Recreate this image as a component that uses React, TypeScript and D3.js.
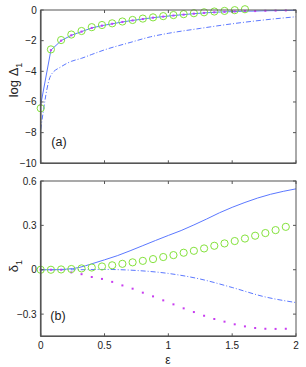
import React from 'react';
import * as d3 from 'd3';

const W = 306;
const H = 367;

// grid of the markers (circles and dots)
const epsMarks = [0, 0.08, 0.16, 0.24, 0.32, 0.4, 0.48, 0.56, 0.64, 0.72, 0.8, 0.88, 0.96,
  1.04, 1.12, 1.2, 1.28, 1.36, 1.44, 1.52, 1.6, 1.68, 1.76, 1.84, 1.92];

// panel (a): log Delta_1
const topCircles = [-6.41, -2.57, -1.96, -1.6, -1.37, -1.12, -0.98, -0.87, -0.75, -0.65, -0.56,
  -0.48, -0.4, -0.33, -0.27, -0.21, -0.15, -0.1, -0.06, -0.01, 0.05];
const topDots = [-6.2, -2.62, -2.0, -1.65, -1.41, -1.17, -1.02, -0.9, -0.78, -0.68, -0.59,
  -0.5, -0.43, -0.36, -0.3, -0.24, -0.19, -0.15, -0.12, -0.1, -0.08, -0.07, -0.05, -0.04, -0.03];
const topSolidEps = [...epsMarks, 2];
const topSolid = [...topDots, -0.02];
const topDashEps = [0, 0.08, 0.16, 0.24, 0.32, 0.4, 0.5, 0.7, 0.86, 1, 1.25, 1.5, 1.75, 2];
const topDash = [-7.8, -4.25, -3.7, -3.35, -3.15, -2.9, -2.6, -2.12, -1.75, -1.52, -1.2, -0.9, -0.65, -0.44];

// panel (b): delta_1
const botCircles = [0, 0, 0.002, 0.005, 0.009, 0.015, 0.022, 0.03, 0.04, 0.05, 0.06, 0.072, 0.086,
  0.099, 0.115, 0.128, 0.144, 0.162, 0.178, 0.194, 0.211, 0.23, 0.248, 0.268, 0.29];
const botDots = [0, 0, 0, -0.018, -0.03, -0.049, -0.062, -0.082, -0.106, -0.128, -0.155, -0.18,
  -0.207, -0.234, -0.261, -0.286, -0.311, -0.333, -0.351, -0.369, -0.383, -0.394, -0.399, -0.4, -0.399];
const botSolidEps = [0, 0.1, 0.2, 0.3, 0.4, 0.5, 0.6, 0.7, 0.8, 0.9, 1, 1.1, 1.2, 1.3, 1.4, 1.5, 1.6, 1.7, 1.8, 1.9, 2];
const botSolid = [0, 0, 0.004, 0.015, 0.04, 0.067, 0.095, 0.128, 0.163, 0.198, 0.232, 0.265, 0.303,
  0.343, 0.385, 0.422, 0.455, 0.485, 0.51, 0.53, 0.547];
const botDashEps = [0, 0.25, 0.5, 0.75, 1, 1.25, 1.5, 1.75, 2];
const botDash = [0, 0, 0.002, -0.005, -0.025, -0.063, -0.12, -0.182, -0.222];

const xTicks = [0, 0.5, 1, 1.5, 2];
const topTicks = [0, -2, -4, -6, -8, -10];
const botTicks = [0.6, 0.3, 0, -0.3];

const blue = '#5b78ff';
const green = '#84e23c';
const magenta = '#c83cf0';
const axisCol = '#555';
const font = 'Liberation Sans, Arial, sans-serif';

const x = d3.scaleLinear().domain([0, 2]).range([40.7, 296]);
const yTop = d3.scaleLinear().domain([-10, 0]).range([163.3, 10]);
const yBot = d3.scaleLinear().domain([-0.45, 0.6]).range([336.3, 181]);

const fmt = (v: number) => (v < 0 ? '\u2212' + String(Math.abs(v)) : String(v));

type Scale = d3.ScaleLinear<number, number>;

const Panel = ({y, ticks, labels}: {y: Scale; ticks: number[]; labels: boolean}) => {
  const [x0, x1] = x.range();
  const [yb, yt] = y.range();
  const tl = 3;
  return (
    <g>
      <rect x={x0} y={yt} width={x1 - x0} height={yb - yt} fill="none" stroke={axisCol} strokeWidth={1} />
      <line x1={x0} x2={x0} y1={yt} y2={yb} stroke={axisCol} strokeWidth={1.6} />
      <line x1={x0} x2={x1} y1={yb} y2={yb} stroke={axisCol} strokeWidth={1.6} />
      {xTicks.map(t => (
        <g key={'x' + t}>
          <line x1={x(t)} x2={x(t)} y1={yb} y2={yb - tl} stroke={axisCol} />
          <line x1={x(t)} x2={x(t)} y1={yt} y2={yt + tl} stroke={axisCol} />
          {labels && (
            <text x={x(t)} y={yb + 13} textAnchor="middle" fontSize={10} fontFamily={font} fill="#222">
              {fmt(t)}
            </text>
          )}
        </g>
      ))}
      {ticks.map(t => (
        <g key={'y' + t}>
          <line x1={x0} x2={x0 + tl} y1={y(t)} y2={y(t)} stroke={axisCol} />
          <line x1={x1} x2={x1 - tl} y1={y(t)} y2={y(t)} stroke={axisCol} />
          <text x={x0 - 4} y={y(t)} dy="0.35em" textAnchor="end" fontSize={10} fontFamily={font} fill="#222">
            {fmt(t)}
          </text>
        </g>
      ))}
    </g>
  );
};

const linePath = (xs: number[], ys: number[], y: Scale, curve: d3.CurveFactory) =>
  d3.line<number>().x((_, i) => x(xs[i])).y(d => y(d)).curve(curve)(ys) || '';

export default function App() {
  const circlesTop = topCircles.map((v, i) => ({e: epsMarks[i], v}));
  const circlesBot = botCircles.map((v, i) => ({e: epsMarks[i], v}));
  return (
    <svg width={W} height={H} style={{position: 'absolute', left: 0, top: 0, background: '#fff'}}>
      {/* panel (a) */}
      <path d={linePath(topDashEps, topDash, yTop, d3.curveMonotoneX)} fill="none" stroke={blue}
        strokeWidth={1} strokeDasharray="5,2,1,2" />
      <path d={linePath(topSolidEps, topSolid, yTop, d3.curveLinear)} fill="none" stroke={blue} strokeWidth={1} />
      {topDots.map((v, i) => (
        <rect key={'td' + i} x={x(epsMarks[i]) - 1} y={yTop(v) - 1} width={2} height={2} fill={magenta} />
      ))}
      {circlesTop.map((d, i) => (
        <circle key={'tc' + i} cx={x(d.e)} cy={yTop(d.v)} r={3.6} fill="none" stroke={green} strokeWidth={1} />
      ))}
      <Panel y={yTop} ticks={topTicks} labels={false} />
      <text x={59} y={146} textAnchor="middle" fontSize={12.5} fontFamily={font} fill="#222">(a)</text>
      <text transform="translate(18,80) rotate(-90)" textAnchor="middle" fontSize={13} fontFamily={font} fill="#222">
        log Δ<tspan fontSize={9} dy={4}>1</tspan>
      </text>

      {/* panel (b) */}
      <path d={linePath(botDashEps, botDash, yBot, d3.curveMonotoneX)} fill="none" stroke={blue}
        strokeWidth={1} strokeDasharray="5,2,1,2" />
      <path d={linePath(botSolidEps, botSolid, yBot, d3.curveMonotoneX)} fill="none" stroke={blue} strokeWidth={1} />
      {botDots.map((v, i) => (
        <rect key={'bd' + i} x={x(epsMarks[i]) - 1} y={yBot(v) - 1} width={2} height={2} fill={magenta} />
      ))}
      {circlesBot.map((d, i) => (
        <circle key={'bc' + i} cx={x(d.e)} cy={yBot(d.v)} r={3.6} fill="none" stroke={green} strokeWidth={1} />
      ))}
      <Panel y={yBot} ticks={botTicks} labels={true} />
      <text x={58} y={320} textAnchor="middle" fontSize={12.5} fontFamily={font} fill="#222">(b)</text>
      <text transform="translate(18,266) rotate(-90)" textAnchor="middle" fontSize={13} fontFamily={font} fill="#222">
        δ<tspan fontSize={9} dy={4}>1</tspan>
      </text>
      <text x={168} y={364} textAnchor="middle" fontSize={12} fontFamily={font} fill="#222">ε</text>
    </svg>
  );
}
